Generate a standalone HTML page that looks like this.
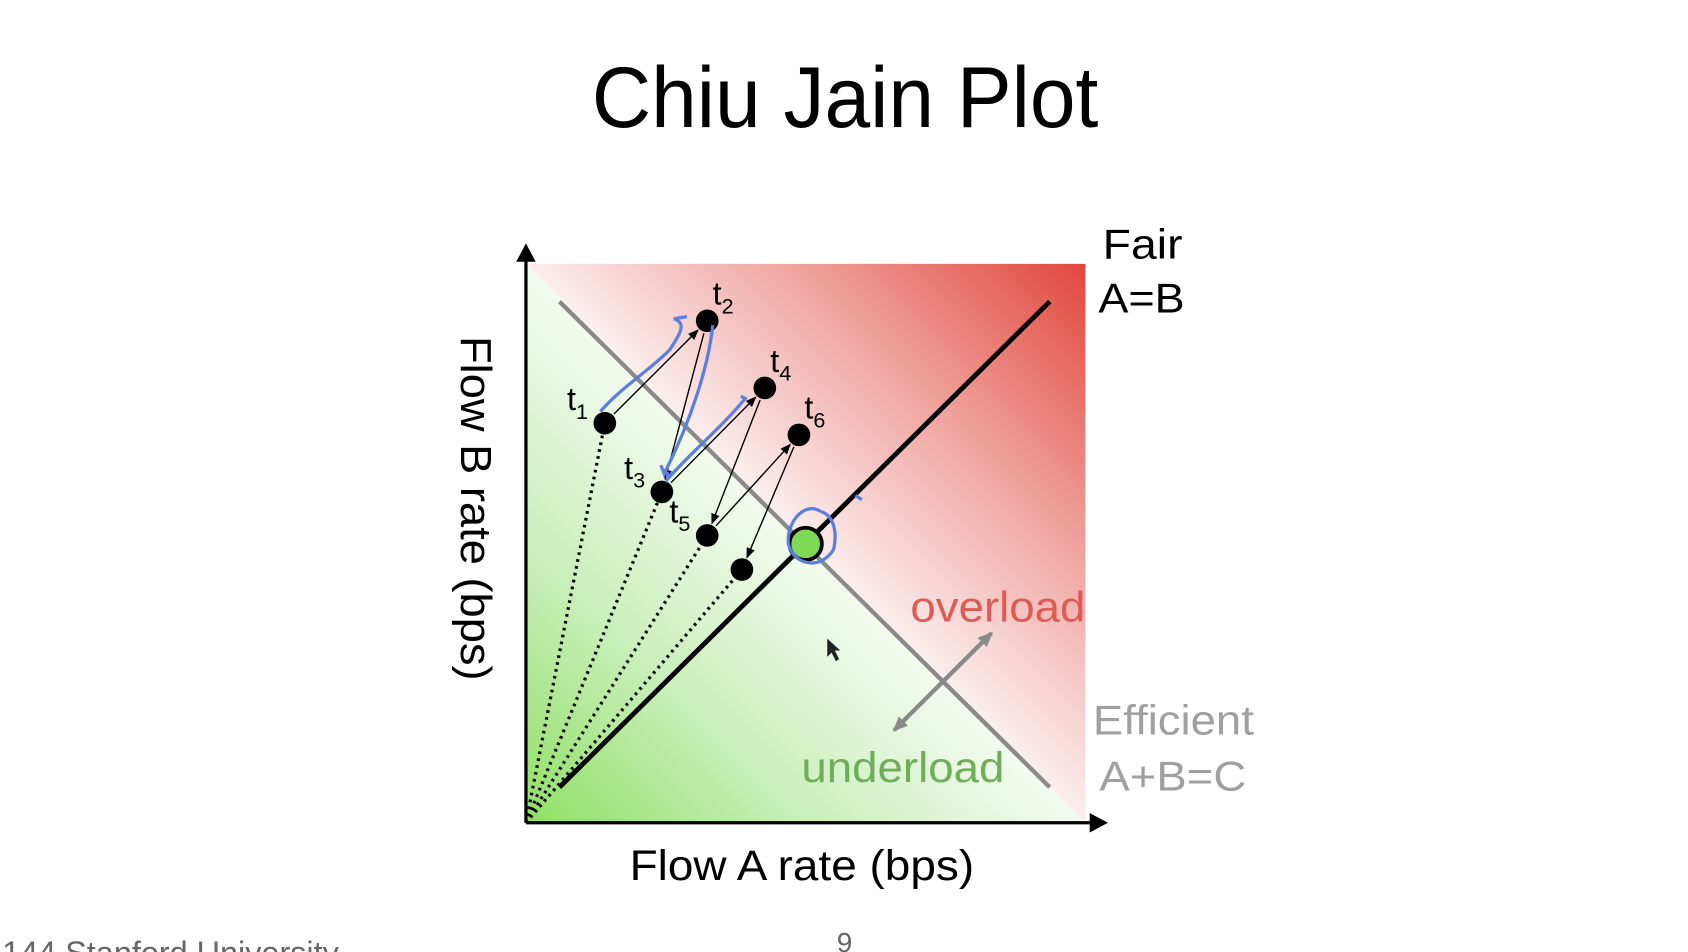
<!DOCTYPE html>
<html><head><meta charset="utf-8"><style>
html,body{margin:0;padding:0;background:#fff;overflow:hidden}
svg{display:block}
text{font-family:"Liberation Sans",sans-serif}
</style></head><body>
<svg id="chart" width="1688" height="952" viewBox="0 0 1563 884" preserveAspectRatio="none" xmlns="http://www.w3.org/2000/svg">
<defs>
<linearGradient id="gRed" gradientUnits="userSpaceOnUse" x1="746" y1="504" x2="1005" y2="245">
<stop offset="0" stop-color="#fbeeee"/><stop offset="0.5" stop-color="#ef9f9a"/><stop offset="1" stop-color="#e0473c"/></linearGradient>
<linearGradient id="gGreen" gradientUnits="userSpaceOnUse" x1="746" y1="504" x2="487" y2="764">
<stop offset="0" stop-color="#f4fbf1"/><stop offset="0.5" stop-color="#c9efba"/><stop offset="1" stop-color="#8fe064"/></linearGradient>
<marker id="ah" markerWidth="10" markerHeight="8" refX="9" refY="4" orient="auto" markerUnits="userSpaceOnUse"><path d="M0,0 L10,4 L0,8 Z" fill="#000"/></marker>
<marker id="ahg" markerWidth="14" markerHeight="12" refX="12" refY="6" orient="auto" markerUnits="userSpaceOnUse"><path d="M0,0 L14,6 L0,12 Z" fill="#8a8a8a"/></marker>
</defs>
<text x="548" y="118" font-size="80" textLength="469" lengthAdjust="spacingAndGlyphs" fill="#000">Chiu Jain Plot</text>
<polygon points="487,245 1005,245 1005,764" fill="url(#gRed)"/>
<polygon points="487,245 1005,764 487,764" fill="url(#gGreen)"/>
<line x1="518" y1="280" x2="972" y2="731" stroke="#8a8a8a" stroke-width="4"/>
<line x1="518" y1="731" x2="972" y2="280" stroke="#000" stroke-width="4.5"/>
<g id="marks"></g>
<line x1="487" y1="764" x2="487" y2="240" stroke="#000" stroke-width="3"/>
<path d="M478,243 L487,226 L496,243 Z" fill="#000"/>
<line x1="487" y1="764" x2="1012" y2="764" stroke="#000" stroke-width="3"/>
<path d="M1009,755 L1026,764 L1009,773 Z" fill="#000"/>
<line x1="873" y1="633" x2="918" y2="588" stroke="#8a8a8a" stroke-width="4" marker-end="url(#ahg)"/>
<line x1="873" y1="633" x2="828" y2="678" stroke="#8a8a8a" stroke-width="4" marker-end="url(#ahg)"/>
<text x="843" y="577" font-size="40" textLength="162" lengthAdjust="spacingAndGlyphs" fill="#de5a52">overload</text>
<text x="742" y="726" font-size="40" textLength="188" lengthAdjust="spacingAndGlyphs" fill="#6fae58">underload</text>
<text x="1012" y="682" font-size="39" textLength="149" lengthAdjust="spacingAndGlyphs" fill="#a0a0a0">Efficient</text>
<text x="1018" y="734" font-size="39" textLength="136" lengthAdjust="spacingAndGlyphs" fill="#a0a0a0">A+B=C</text>
<text x="1021" y="240" font-size="39" textLength="74" lengthAdjust="spacingAndGlyphs" fill="#000">Fair</text>
<text x="1017" y="290" font-size="39" textLength="80" lengthAdjust="spacingAndGlyphs" fill="#000">A=B</text>
<text x="583" y="817" font-size="40" textLength="319" lengthAdjust="spacingAndGlyphs" fill="#000">Flow A rate (bps)</text>
<text x="0" y="0" font-size="40" textLength="320" lengthAdjust="spacingAndGlyphs" fill="#000" transform="translate(427,312) rotate(90)">Flow B rate (bps)</text>
<text x="2" y="895" font-size="30" fill="#666">144 Stanford University</text>
<text x="782" y="884" font-size="26" text-anchor="middle" fill="#666">9</text>
<g fill="none" stroke="#5b7fe0" stroke-width="3">
<path d="M556,382 C575,360 600,345 620,325 C630,310 636,300 624,296 L636,294 M660,302 C656,340 640,390 615,440 L612,432 M618,438 L618,445 C640,420 670,395 690,370 L686,368 M760,475 C745,465 728,485 730,505 C735,525 760,530 772,510 C776,490 770,478 760,475 M792,460 L798,464"/>
</g>
<path d="M766,593 L766,610 L770,606 L774,614 L777,612 L773,604 L778,604 Z" fill="#222"/>
</svg>
<script>
const pointLabels = ['1','2','3','4','5','6',''];
const flowA = [0.141,0.324,0.243,0.427,0.324,0.488,0.386];
const flowB = [0.715,0.898,0.592,0.778,0.514,0.694,0.453];
const equilibriumA = [0.500];
const equilibriumB = [0.499];
const X0=487, X1=1005, Y0=764, Y1=245;
function sx(v){return X0+v*(X1-X0);}
function sy(v){return Y0-v*(Y0-Y1);}
const NS='http://www.w3.org/2000/svg';
const g=document.getElementById('marks');
function mk(tag,attrs){const e=document.createElementNS(NS,tag);for(const k in attrs)e.setAttribute(k,attrs[k]);g.appendChild(e);return e;}
[0,2,4,6].forEach(i=>{
  const l=mk('line',{x1:sx(0),y1:sy(0),x2:sx(flowA[i]),y2:sy(flowB[i]),stroke:'#000','stroke-width':3,'stroke-dasharray':'2.5 4'});
  
  
});
for(let i=0;i<flowA.length-1;i++){
  const xa=sx(flowA[i]),ya=sy(flowB[i]),xb=sx(flowA[i+1]),yb=sy(flowB[i+1]);
  const d=Math.hypot(xb-xa,yb-ya),r=12;
  const l=mk('line',{x1:xa+(xb-xa)*r/d,y1:ya+(yb-ya)*r/d,x2:xb-(xb-xa)*r/d,y2:yb-(yb-ya)*r/d,stroke:'#000','stroke-width':1.3,'marker-end':'url(#ah)'});
  
  
}
for(let i=0;i<flowA.length;i++){
  const c=mk('circle',{cx:sx(flowA[i]),cy:sy(flowB[i]),r:10.5,fill:'#000'});
  
  
  if(pointLabels[i]){
    const right=(i%2===1);
    const tx=right?sx(flowA[i])+5:sx(flowA[i])-35;
    const ty=sy(flowB[i])-(right?15:12);
    const t=mk('text',{x:tx,y:ty,'font-size':30,fill:'#000'});
    t.textContent='t';
    
    
    const s=document.createElementNS(NS,'tspan');
    s.setAttribute('font-size','20');s.setAttribute('dy','8');
    s.textContent=pointLabels[i];
    t.appendChild(s);
  }
}
const eq=mk('circle',{cx:sx(equilibriumA[0]),cy:sy(equilibriumB[0]),r:15,fill:'#7ed957',stroke:'#000','stroke-width':3.5});


</script>
</body></html>
